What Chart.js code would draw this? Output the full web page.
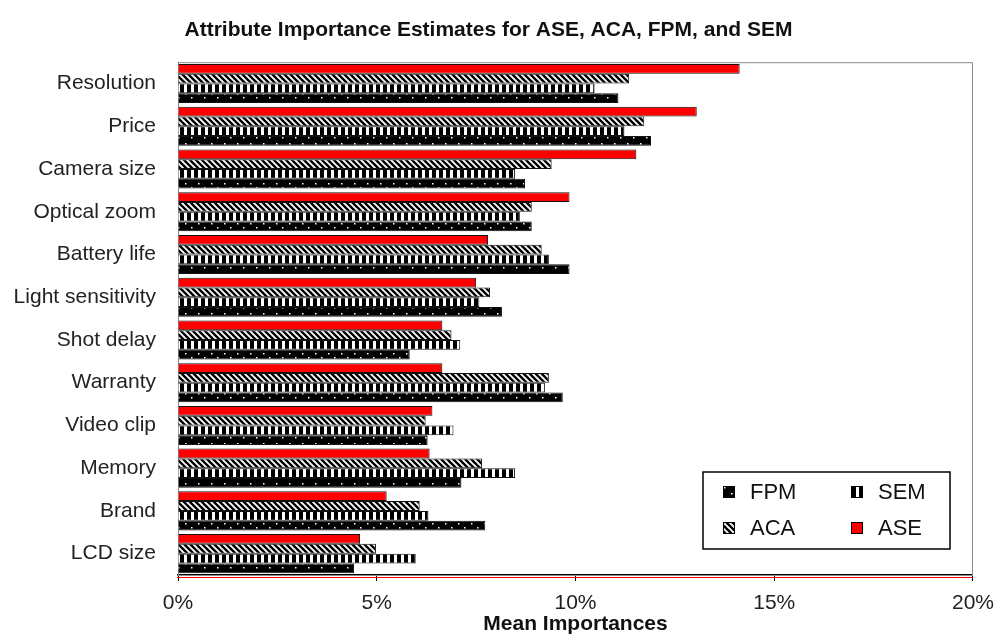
<!DOCTYPE html>
<html>
<head>
<meta charset="utf-8">
<script src="https://cdn.jsdelivr.net/npm/chart.js@4.4.1/dist/chart.umd.min.js"></script>
<style>
  html, body { margin: 0; padding: 0; background: #fff; }
  #wrap { width: 1004px; height: 637px; position: relative; }
</style>
</head>
<body>
<div id="wrap"><canvas id="chart"></canvas></div>
<script>
/*
Attribute importance bar chart (horizontal, 4 methods)
*/

// categories, top to bottom
const categories = ['Resolution', 'Price', 'Camera size', 'Optical zoom', 'Battery life',
    'Light sensitivity', 'Shot delay', 'Warranty', 'Video clip', 'Memory', 'Brand', 'LCD size'];

// mean importances in percent
const ase = [14.13, 13.05, 11.53, 9.85, 7.80, 7.50, 6.65, 6.65, 6.40, 6.33, 5.25, 4.58];
const aca = [11.35, 11.73, 9.40, 8.90, 9.15, 7.85, 6.88, 9.33, 6.23, 7.65, 6.08, 4.98];
const sem = [10.48, 11.23, 8.48, 8.60, 9.33, 7.58, 7.10, 9.23, 6.93, 8.48, 6.30, 5.98];
const fpm = [11.08, 11.90, 8.73, 8.90, 9.85, 8.15, 5.83, 9.68, 6.28, 7.13, 7.73, 4.43];

const xMin = 0;
const xMax = 20;
const xStep = 5;

// legend order as in the box (row by row)
const legendOrder = ['FPM', 'SEM', 'ACA', 'ASE'];

const FONT = '"Liberation Sans", Arial, Helvetica, sans-serif';
Chart.defaults.font.family = FONT;
Chart.defaults.color = '#222';


/**************** Fill patterns *************************/

function makePattern(kind) {
    const c = document.createElement('canvas');
    const g = c.getContext('2d');
    if (kind === 'diag') {
        c.width = 6; c.height = 6;
        g.fillStyle = '#fff';
        g.fillRect(0, 0, 6, 6);
        g.strokeStyle = '#000';
        g.lineWidth = 2.4;
        g.beginPath();
        g.moveTo(-1, -1); g.lineTo(7, 7);
        g.moveTo(-4, 2); g.lineTo(4, 10);
        g.moveTo(2, -4); g.lineTo(10, 4);
        g.stroke();
    } else if (kind === 'vert') {
        c.width = 7; c.height = 4;
        g.fillStyle = '#000';
        g.fillRect(0, 0, 7, 4);
        g.fillStyle = '#fff';
        g.fillRect(2, 0, 3, 4);
    } else {
        // dots
        c.width = 13; c.height = 10;
        g.fillStyle = '#000';
        g.fillRect(0, 0, 13, 10);
        g.fillStyle = '#fff';
        g.fillRect(3, 3, 1.5, 1.5);
        g.fillRect(9, 7, 1.5, 1.5);
    }
    return g.createPattern(c, 'repeat');
}

const fills = {
    ASE: '#ff0000',
    ACA: makePattern('diag'),
    SEM: makePattern('vert'),
    FPM: makePattern('dots')
};


/**************** Plugins *************************/

const framePlugin = {
    id: 'frame',
    beforeDatasetsDraw(chart) {
        const {ctx, chartArea: a} = chart;
        ctx.save();
        ctx.strokeStyle = '#8a8a8a';
        ctx.lineWidth = 1;
        ctx.strokeRect(a.left + 0.5, a.top + 0.5, a.right - a.left - 1, a.bottom - a.top);
        ctx.restore();
    },
    afterDraw(chart) {
        const {ctx, chartArea: a} = chart;
        ctx.save();
        // red line under the axis
        ctx.strokeStyle = '#ff0000';
        ctx.lineWidth = 1;
        ctx.beginPath();
        ctx.moveTo(a.left - 1, a.bottom + 2.5);
        ctx.lineTo(a.right, a.bottom + 2.5);
        ctx.stroke();

        // legend box
        const bx = 703, by = 472, bw = 247, bh = 77;
        ctx.fillStyle = '#fff';
        ctx.fillRect(bx, by, bw, bh);
        ctx.strokeStyle = '#000';
        ctx.lineWidth = 1.5;
        ctx.strokeRect(bx, by, bw, bh);

        ctx.font = '22px ' + FONT;
        ctx.textBaseline = 'middle';
        ctx.textAlign = 'left';
        legendOrder.forEach((name, i) => {
            const col = i % 2, row = Math.floor(i / 2);
            const mx = bx + 20 + col * 128;
            const my = by + 20 + row * 36;
            ctx.fillStyle = fills[name];
            ctx.fillRect(mx, my - 6, 12, 12);
            ctx.strokeStyle = '#000';
            ctx.lineWidth = 1;
            ctx.strokeRect(mx + 0.5, my - 5.5, 11, 11);
            ctx.fillStyle = '#111';
            ctx.fillText(name, mx + 27, my + 1);
        });
        ctx.restore();
    }
};


/**************** Load chart *************************/

const series = [
    {label: 'ASE', data: ase},
    {label: 'ACA', data: aca},
    {label: 'SEM', data: sem},
    {label: 'FPM', data: fpm}
];

new Chart(document.getElementById('chart'), {
    type: 'bar',
    data: {
        labels: categories,
        datasets: series.map(s => ({
            label: s.label,
            data: s.data,
            backgroundColor: fills[s.label],
            borderColor: '#111',
            borderWidth: 1,
            categoryPercentage: 0.915,
            barPercentage: 1.0
        }))
    },
    options: {
        indexAxis: 'y',
        responsive: true,
        maintainAspectRatio: false,
        animation: false,
        layout: { padding: { left: 0, right: 27, top: 0, bottom: 0 } },
        plugins: {
            legend: { display: false },
            tooltip: { enabled: false },
            title: {
                display: true,
                text: 'Attribute Importance Estimates for ASE, ACA, FPM, and SEM',
                font: { size: 21, weight: 'bold' },
                color: '#111',
                padding: { top: 18, bottom: 19 }
            }
        },
        scales: {
            x: {
                min: xMin,
                max: xMax,
                ticks: {
                    stepSize: xStep,
                    font: { size: 21 },
                    color: '#222',
                    padding: 10,
                    callback: v => v + '%'
                },
                grid: {
                    drawOnChartArea: false,
                    drawTicks: true,
                    tickLength: 6,
                    color: '#000'
                },
                border: { display: true, color: '#000', width: 1.5 },
                title: {
                    display: true,
                    text: 'Mean Importances',
                    font: { size: 21, weight: 'bold' },
                    color: '#111',
                    padding: { top: 0, bottom: 0 }
                },
                afterFit: scale => { scale.height = 62; }
            },
            y: {
                ticks: {
                    font: { size: 21 },
                    color: '#222',
                    padding: 22
                },
                grid: { display: false, drawTicks: false },
                border: { display: true, color: '#000', width: 1 },
                afterFit: scale => { scale.width = 178; }
            }
        }
    },
    plugins: [framePlugin]
});
</script>
</body>
</html>
